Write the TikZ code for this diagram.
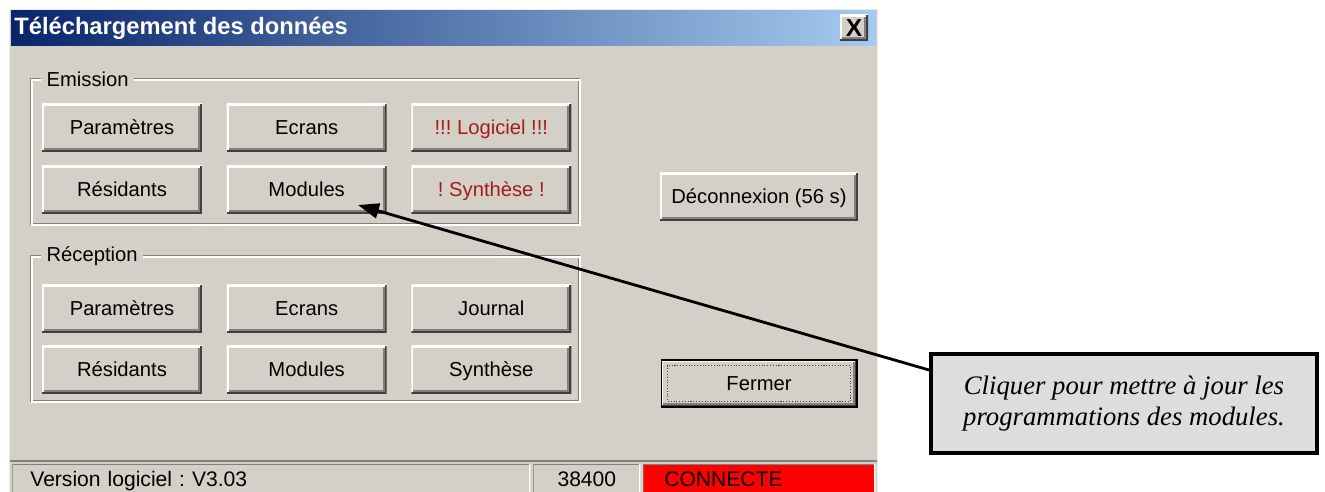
\documentclass[tikz,border=0pt]{standalone}
\usepackage{fontspec}
\setmainfont{Liberation Sans}
\newfontfamily\notefont{Liberation Serif}
\definecolor{winFace}{HTML}{D4D0C8}
\definecolor{winShadow}{HTML}{808080}
\definecolor{winDark}{HTML}{404040}
\definecolor{titleDark}{HTML}{0A246A}
\definecolor{titleLight}{HTML}{A6CAF0}
\definecolor{alertRed}{HTML}{A31C1C}
\definecolor{statusRed}{HTML}{FF0000}
\definecolor{noteFill}{HTML}{DDDDDD}
\usepackage{tikz}
\usetikzlibrary{calc, positioning, arrows.meta}
\frenchspacing

\tikzset{
  winbtn/.style={fill=winFace, inner sep=0pt, minimum width=3.2cm, minimum height=0.96cm,
    text height=8.4pt, text depth=0.6pt,
    font=\fontsize{11.5}{13}\selectfont,
    path picture={
      \draw[winShadow, line width=1.1pt]
        ([shift={(1.2pt,1.7pt)}]path picture bounding box.south west) -|
        ([shift={(-1.7pt,-1.2pt)}]path picture bounding box.north east);
      \draw[white, line width=2.2pt] (path picture bounding box.south west) |- (path picture bounding box.north east);
      \draw[winDark, line width=2.2pt] (path picture bounding box.south west) -| (path picture bounding box.north east);
    }},
  alertbtn/.style={winbtn, text=alertRed},
  grouplabel/.style={fill=winFace, inner xsep=3pt, inner ysep=1pt, font=\fontsize{11.5}{13}\selectfont},
  statuspanel/.style={fill=winFace, inner ysep=0pt, minimum height=0.68cm, anchor=north west,
    text height=8.6pt, text depth=2.4pt,
    font=\fontsize{12}{13}\selectfont, align=left,
    path picture={
      \draw[winShadow, line width=1.2pt] (path picture bounding box.south west) |- (path picture bounding box.north east);
      \draw[white, line width=1.2pt] (path picture bounding box.south west) -| (path picture bounding box.north east);
    }},
  notebox/.style={fill=noteFill, draw=black, line width=2.3pt, minimum width=7.72cm, minimum height=1.98cm,
    font=\notefont\itshape\fontsize{15.2}{17.6}\selectfont, align=center}
}

\begin{document}
\begin{tikzpicture}[x=0.02cm, y=-0.02cm]
  \useasboundingbox (0,0) rectangle (1325,492);

  % window frame and title bar
  \fill[winFace] (9,9) rectangle (878,492);
  \draw[white!85!winShadow, line width=0.6pt] (9.5,492) -- (9.5,9.5) -- (877.5,9.5) -- (877.5,492);
  \shade[left color=titleDark, right color=titleLight] (11,11) rectangle (876,46);
  \node[anchor=base west, text=white, inner sep=0pt, font=\bfseries\fontsize{13.5}{15}\selectfont] (title) at (14,35) {Téléchargement des données};
  \node[winbtn, minimum width=0.56cm, minimum height=0.52cm, text height=10pt, text depth=0pt, font=\bfseries\fontsize{14}{15}\selectfont] (closeBtn) at (854,28) {X};

  % Emission
  \draw[winShadow, line width=0.6pt] (31,79) rectangle (579,224);
  \draw[white, line width=0.6pt] (32,80) rectangle (580,225);
  \node[grouplabel, anchor=west] (emLabel) at (41,79) {Emission};
  \node[winbtn] (emParam) at (122,128) {Paramètres};
  \node[winbtn, right=0.48cm of emParam] (emEcrans) {Ecrans};
  \node[alertbtn, right=0.48cm of emEcrans] (emLogiciel) {!!! Logiciel !!!};
  \node[winbtn, below=0.26cm of emParam] (emResid) {Résidants};
  \node[winbtn, right=0.48cm of emResid] (emModules) {Modules};
  \node[alertbtn, right=0.48cm of emModules] (emSynth) {! Synthèse !};

  % Reception
  \draw[winShadow, line width=0.6pt] (31,256) rectangle (579,401);
  \draw[white, line width=0.6pt] (32,257) rectangle (580,402);
  \node[grouplabel, anchor=west] (reLabel) at (41,256) {Réception};
  \node[winbtn] (reParam) at (122,309) {Paramètres};
  \node[winbtn, right=0.48cm of reParam] (reEcrans) {Ecrans};
  \node[winbtn, right=0.48cm of reEcrans] (reJournal) {Journal};
  \node[winbtn, below=0.24cm of reParam] (reResid) {Résidants};
  \node[winbtn, right=0.48cm of reResid] (reModules) {Modules};
  \node[winbtn, right=0.48cm of reModules] (reSynth) {Synthèse};

  % right column
  \node[winbtn, minimum width=3.96cm] (deconnect) at (759,197) {Déconnexion (56 s)};
  \node[winbtn, minimum width=3.92cm, minimum height=0.94cm, draw=black, line width=0.6pt] (fermer) at (759,383.5) {Fermer};
  \draw[densely dotted, winDark, line width=0.6pt] ($(fermer.north west)+(7,6)$) rectangle ($(fermer.south east)+(-7,-6)$);

  % status bar
  \draw[winShadow, line width=1.2pt] (10,461) -- (877,461);
  \node[statuspanel, minimum width=10.36cm, inner xsep=0.36cm, text width=9.64cm] (version) at (12,464) {Version logiciel : V3.03};
  \node[statuspanel, minimum width=2.14cm, inner xsep=0pt, text width=2.14cm, align=center] (baud) at (533,464) {38400\hspace{0.3cm}};
  \node[statuspanel, fill=statusRed, minimum width=4.64cm, inner xsep=0.42cm, text width=3.8cm] (state) at (643,464) {CONNECTE};

  % callout
  \node[notebox] (note) at (1124,403.5) {Cliquer pour mettre à jour les\\programmations des modules.};
  \coordinate (noteTail) at ($(note.north west)+(0,18)$);
  \coordinate (modTip) at ($(emModules.south east)+(-29,-9)$);
  \draw[line width=1.6pt, -{Triangle[length=0.42cm, width=0.3cm]}] (noteTail) -- (modTip);
\end{tikzpicture}
\end{document}
